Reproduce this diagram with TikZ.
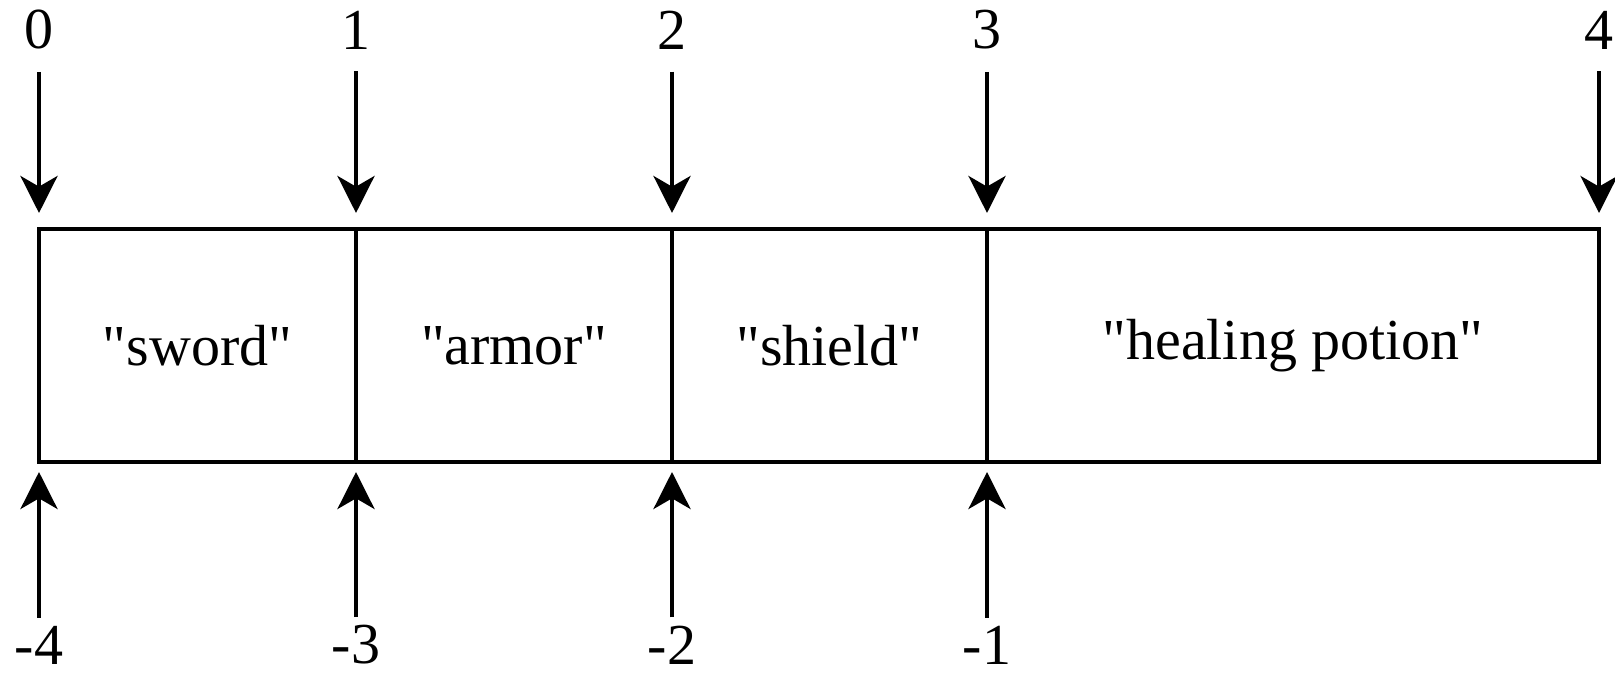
\documentclass[tikz,border=0pt]{standalone}
\usepackage{fontspec}
\setmainfont{Liberation Serif}
\usetikzlibrary{arrows.meta,positioning}
\newcommand{\qtext}[1]{\textquotedbl#1\textquotedbl}

\begin{document}
\begin{tikzpicture}[font=\fontsize{33}{40}\selectfont,
  cell/.style={draw,line width=2.6pt,minimum height=4.66cm,inner sep=0pt,outer sep=0pt,anchor=south west},
  idx/.style={inner sep=0pt},
  ptr/.style={-{Stealth[length=21pt,width=21pt,inset=6pt]},line width=2.8pt}]
  \useasboundingbox (0,0) rectangle (32.3,13.54);
  \coordinate (top) at (0,12.94);
  \coordinate (bot) at (0,0.64);
  % the list cells
  \node[cell,minimum width=6.34cm] (c1) at (0.78,4.3) {\qtext{sword}};
  \node[cell,minimum width=6.32cm] (c2) at (c1.south east) {\qtext{armor}};
  \node[cell,minimum width=6.30cm] (c3) at (c2.south east) {\qtext{shield}};
  \node[cell,minimum width=12.24cm] (c4) at (c3.south east) {\qtext{healing potion}};
  % positive indices
  \foreach \n/\a in {0/c1.north west,1/c1.north east,2/c2.north east,3/c3.north east,4/c4.north east}{
    \node[idx] (t\n) at (\a |- top) {\n};
    \draw[ptr,shorten <=0.44cm,shorten >=0.32cm] (t\n) -- (\a);
  }
  % negative indices
  \foreach \i/\n/\a in {1/-4/c1.south west,2/-3/c2.south west,3/-2/c3.south west,4/-1/c4.south west}{
    \node[idx] (b\i) at (\a |- bot) {\n};
    \draw[ptr,shorten <=0.16cm,shorten >=0.2cm] (b\i) -- (\a);
  }
\end{tikzpicture}
\end{document}
